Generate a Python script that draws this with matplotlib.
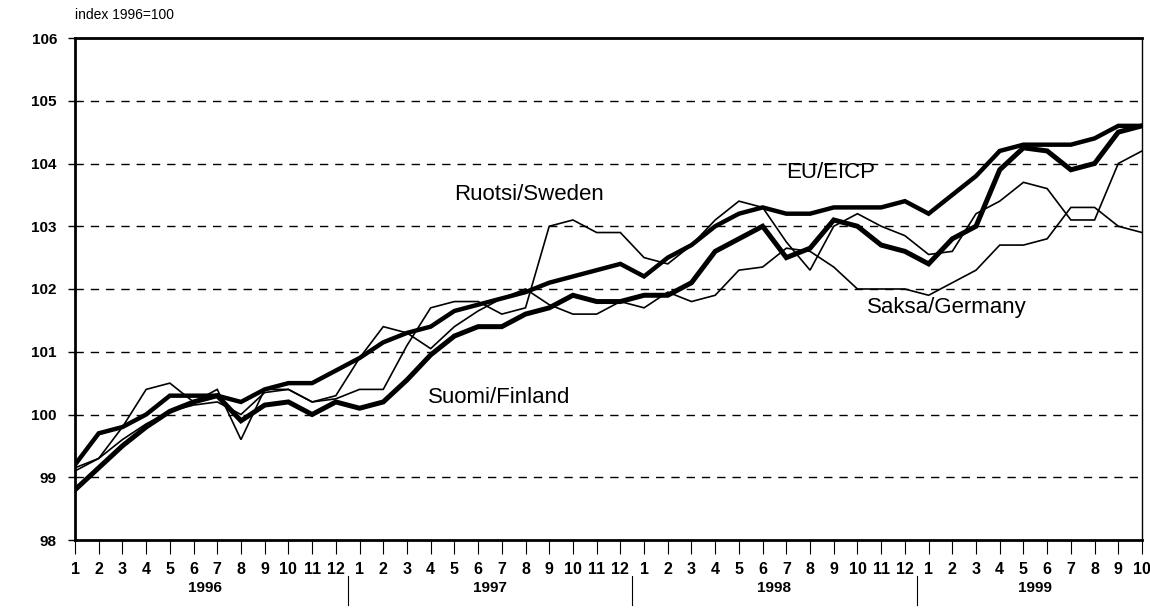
import matplotlib
matplotlib.use("Agg")
import matplotlib.pyplot as plt
import matplotlib.transforms as mtransforms

plt.rcParams['font.family'] = ['Liberation Sans', 'DejaVu Sans']

years = ["1996", "1997", "1998", "1999"]
months_per_year = [12, 12, 12, 10]
month_labels = [str(m) for n in months_per_year for m in range(1, n + 1)]

eu = [99.2, 99.7, 99.8, 100.0, 100.3, 100.3, 100.3, 100.2, 100.4, 100.5, 100.5, 100.7,
      100.9, 101.15, 101.3, 101.4, 101.65, 101.75, 101.85, 101.95, 102.1, 102.2, 102.3, 102.4,
      102.2, 102.5, 102.7, 103.0, 103.2, 103.3, 103.2, 103.2, 103.3, 103.3, 103.3, 103.4,
      103.2, 103.5, 103.8, 104.2, 104.3, 104.3, 104.3, 104.4, 104.6, 104.6]

finland = [98.8, 99.15, 99.5, 99.8, 100.05, 100.2, 100.3, 99.9, 100.15, 100.2, 100.0, 100.2,
           100.1, 100.2, 100.55, 100.95, 101.25, 101.4, 101.4, 101.6, 101.7, 101.9, 101.8, 101.8,
           101.9, 101.9, 102.1, 102.6, 102.8, 103.0, 102.5, 102.65, 103.1, 103.0, 102.7, 102.6,
           102.4, 102.8, 103.0, 103.9, 104.25, 104.2, 103.9, 104.0, 104.5, 104.6]

sweden = [99.1, 99.3, 99.8, 100.4, 100.5, 100.2, 100.4, 99.6, 100.4, 100.4, 100.2, 100.25,
          100.4, 100.4, 101.1, 101.7, 101.8, 101.8, 101.6, 101.7, 103.0, 103.1, 102.9, 102.9,
          102.5, 102.4, 102.7, 103.1, 103.4, 103.3, 102.75, 102.3, 103.0, 103.2, 103.0, 102.85,
          102.55, 102.6, 103.2, 103.4, 103.7, 103.6, 103.1, 103.1, 104.0, 104.2]

germany = [99.15, 99.3, 99.6, 99.85, 100.05, 100.15, 100.2, 100.0, 100.35, 100.4, 100.2, 100.3,
           100.9, 101.4, 101.3, 101.05, 101.4, 101.65, 101.85, 102.0, 101.75, 101.6, 101.6, 101.8,
           101.7, 101.95, 101.8, 101.9, 102.3, 102.35, 102.65, 102.6, 102.35, 102.0, 102.0, 102.0,
           101.9, 102.1, 102.3, 102.7, 102.7, 102.8, 103.3, 103.3, 103.0, 102.9]

series_labels = ["EU/EICP", "Suomi/Finland", "Ruotsi/Sweden", "Saksa/Germany"]
y_ticks = [98, 99, 100, 101, 102, 103, 104, 105, 106]

fig = plt.figure(figsize=(11.5, 6.08), dpi=100)
ax = fig.add_axes([75 / 1150, (608 - 540) / 608, (1142 - 75) / 1150, (540 - 38) / 608])

x = list(range(len(month_labels)))
ax.plot(x, sweden, color='black', lw=1.2, solid_joinstyle='miter', zorder=3)
ax.plot(x, germany, color='black', lw=1.2, solid_joinstyle='miter', zorder=3)
ax.plot(x, eu, color='black', lw=3.2, solid_joinstyle='miter', zorder=4)
ax.plot(x, finland, color='black', lw=3.6, solid_joinstyle='miter', zorder=4)

ax.set_xlim(0, len(month_labels) - 1)
ax.set_ylim(98, 106)
ax.set_yticks(y_ticks)
ax.set_yticklabels([str(v) for v in y_ticks], fontsize=11, fontweight='bold')
ax.set_xticks(x)
ax.set_xticklabels(month_labels, fontsize=11.5, fontweight='bold')
ax.tick_params(axis='x', length=10, width=0.8, pad=6, direction='out')
ax.tick_params(axis='y', length=5, width=1, pad=8, direction='out')

for v in y_ticks[1:-1]:
    ax.axhline(v, color='black', lw=1.0, ls=(0, (6, 5)), zorder=1)

for side in ['left', 'bottom', 'top']:
    ax.spines[side].set_linewidth(2.0)
ax.spines['right'].set_linewidth(1.0)

# year labels and separators
trans = mtransforms.blended_transform_factory(ax.transData, ax.transAxes)
start = 0
for yr, n in zip(years, months_per_year):
    center = start + (n - 1) / 2
    ax.text(center, -0.095, yr, transform=trans, ha='center', va='center',
            fontsize=11, fontweight='bold')
    start += n
    if start < len(month_labels):
        ax.plot([start - 0.5, start - 0.5], [-0.072, -0.13], transform=trans,
                color='black', lw=0.8, clip_on=False)

ax.text(0, 1.045, "index 1996=100", transform=ax.transAxes, ha='left', va='center',
        fontsize=10)

ax.text(16.0, 103.5, series_labels[2], fontsize=16, ha='left', va='center')
ax.text(30.0, 103.85, series_labels[0], fontsize=16, ha='left', va='center')
ax.text(33.4, 101.7, series_labels[3], fontsize=16, ha='left', va='center')
ax.text(14.9, 100.27, series_labels[1], fontsize=16, ha='left', va='center')

fig.savefig("out.png", dpi=100)
